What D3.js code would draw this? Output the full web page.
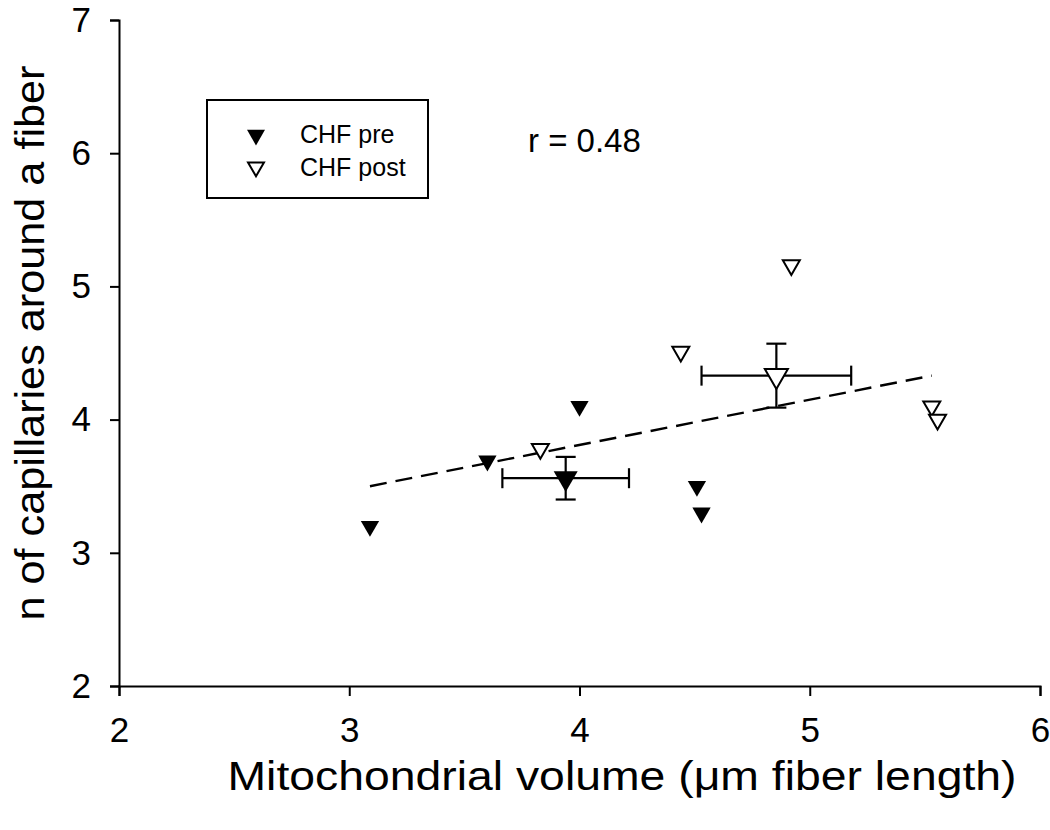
<!DOCTYPE html>
<html>
<head>
<meta charset="utf-8">
<script src="https://cdn.jsdelivr.net/npm/d3@7"></script>
<style>
  body { margin: 0; background: #fff; }
  text { font-family: "Liberation Sans", Arial, sans-serif; fill: #000; }
</style>
</head>
<body>
<svg id="chart" width="1050" height="830"></svg>
<script>
// CHF pre (filled) individual points
const preX = [3.09, 3.60, 4.00, 4.51, 4.53];
const preY = [3.20, 3.69, 4.10, 3.50, 3.30];
// CHF post (open) individual points
const postX = [3.83, 4.44, 4.92, 5.53, 5.555];
const postY = [3.78, 4.51, 5.16, 4.10, 4.00];

// group means with error bars
const meanLabels = ['pre', 'post'];
const meanX = [3.94, 4.855];
const meanY = [3.56, 4.33];
const errX = [0.275, 0.325];
const errY = [0.16, 0.24];

// regression line
const fitX = [3.09, 5.53];
const fitY = [3.50, 4.33];

const xTicks = [2, 3, 4, 5, 6];
const yTicks = [2, 3, 4, 5, 6, 7];

const svg = d3.select('#chart');

let x = d3.scaleLinear().domain([2, 6]).range([119, 1040]);
let y = d3.scaleLinear().domain([2, 7]).range([686, 20]);

// axes
let xAxis = svg.append('g')
    .attr('transform', `translate(0,${y(2)})`)
    .call(d3.axisBottom(x).tickValues(xTicks).tickSize(10).tickPadding(21).tickFormat(d3.format('d')));
let yAxis = svg.append('g')
    .attr('transform', `translate(${x(2)},0)`)
    .call(d3.axisLeft(y).tickValues(yTicks).tickSize(9).tickPadding(19).tickFormat(d3.format('d')));

[xAxis, yAxis].forEach(a => {
    a.select('.domain').attr('stroke', '#000').attr('stroke-width', 2);
    a.selectAll('.tick line').attr('stroke', '#000').attr('stroke-width', 2);
    a.selectAll('.tick text')
        .attr('font-family', '"Liberation Sans", Arial, sans-serif')
        .attr('font-size', 35)
        .attr('fill', '#000');
});

// axis titles
svg.append('text')
    .attr('x', 622).attr('y', 790)
    .attr('text-anchor', 'middle')
    .attr('font-size', 40)
    .attr('textLength', 789)
    .attr('lengthAdjust', 'spacingAndGlyphs')
    .text('Mitochondrial volume (\u03bcm fiber length)');

svg.append('text')
    .attr('transform', 'translate(44,343) rotate(-90)')
    .attr('text-anchor', 'middle')
    .attr('font-size', 40)
    .attr('textLength', 555)
    .attr('lengthAdjust', 'spacingAndGlyphs')
    .text('n of capillaries around a fiber');

// regression line (dashed)
let fit = fitX.map((v, i) => ({x: v, y: fitY[i]}));
svg.append('path')
    .datum(fit)
    .attr('d', d3.line().x(d => x(d.x)).y(d => y(d.y)))
    .attr('fill', 'none')
    .attr('stroke', '#000')
    .attr('stroke-width', 2.4)
    .attr('stroke-dasharray', '17,9');

// down-pointing triangle
let tri = size => d3.symbol().type(d3.symbolTriangle).size(size)();

// error bars
meanLabels.forEach((m, i) => {
    let g = svg.append('g').attr('stroke', '#000').attr('stroke-width', 2.2);
    let cx = x(meanX[i]), cy = y(meanY[i]);
    let x0 = x(meanX[i] - errX[i]), x1 = x(meanX[i] + errX[i]);
    let y0 = y(meanY[i] - errY[i]), y1 = y(meanY[i] + errY[i]);
    g.append('line').attr('x1', x0).attr('x2', x1).attr('y1', cy).attr('y2', cy);
    g.append('line').attr('x1', x0).attr('x2', x0).attr('y1', cy - 10).attr('y2', cy + 10);
    g.append('line').attr('x1', x1).attr('x2', x1).attr('y1', cy - 10).attr('y2', cy + 10);
    g.append('line').attr('x1', cx).attr('x2', cx).attr('y1', y0).attr('y2', y1);
    g.append('line').attr('x1', cx - 10).attr('x2', cx + 10).attr('y1', y0).attr('y2', y0);
    g.append('line').attr('x1', cx - 10).attr('x2', cx + 10).attr('y1', y1).attr('y2', y1);
});

// individual points
let pre = preX.map((v, i) => ({x: v, y: preY[i]}));
let post = postX.map((v, i) => ({x: v, y: postY[i]}));

svg.selectAll('path.pre')
    .data(pre).enter().append('path')
    .attr('class', 'pre')
    .attr('d', tri(145))
    .attr('transform', d => `translate(${x(d.x)},${y(d.y)}) rotate(180)`)
    .attr('fill', '#000');

svg.selectAll('path.post')
    .data(post).enter().append('path')
    .attr('class', 'post')
    .attr('d', tri(125))
    .attr('transform', d => `translate(${x(d.x)},${y(d.y)}) rotate(180)`)
    .attr('fill', '#fff')
    .attr('stroke', '#000')
    .attr('stroke-width', 2);

// mean markers
svg.append('path')
    .attr('d', tri(250))
    .attr('transform', `translate(${x(meanX[0])},${y(meanY[0])}) rotate(180)`)
    .attr('fill', '#000');
svg.append('path')
    .attr('d', tri(230))
    .attr('transform', `translate(${x(meanX[1])},${y(meanY[1])}) rotate(180)`)
    .attr('fill', '#fff')
    .attr('stroke', '#000')
    .attr('stroke-width', 2);

// legend
let legend = svg.append('g');
legend.append('rect')
    .attr('x', 207).attr('y', 100).attr('width', 221).attr('height', 98)
    .attr('fill', '#fff').attr('stroke', '#000').attr('stroke-width', 2);
legend.append('path')
    .attr('d', tri(140))
    .attr('transform', 'translate(256,135) rotate(180)')
    .attr('fill', '#000');
legend.append('path')
    .attr('d', tri(110))
    .attr('transform', 'translate(256,167) rotate(180)')
    .attr('fill', '#fff').attr('stroke', '#000').attr('stroke-width', 2);
legend.append('text').attr('x', 300).attr('y', 143).attr('font-size', 25).text('CHF pre');
legend.append('text').attr('x', 300).attr('y', 176).attr('font-size', 25).text('CHF post');

// correlation
svg.append('text')
    .attr('x', 528).attr('y', 152)
    .attr('font-size', 33)
    .text('r = 0.48');
</script>
</body>
</html>
